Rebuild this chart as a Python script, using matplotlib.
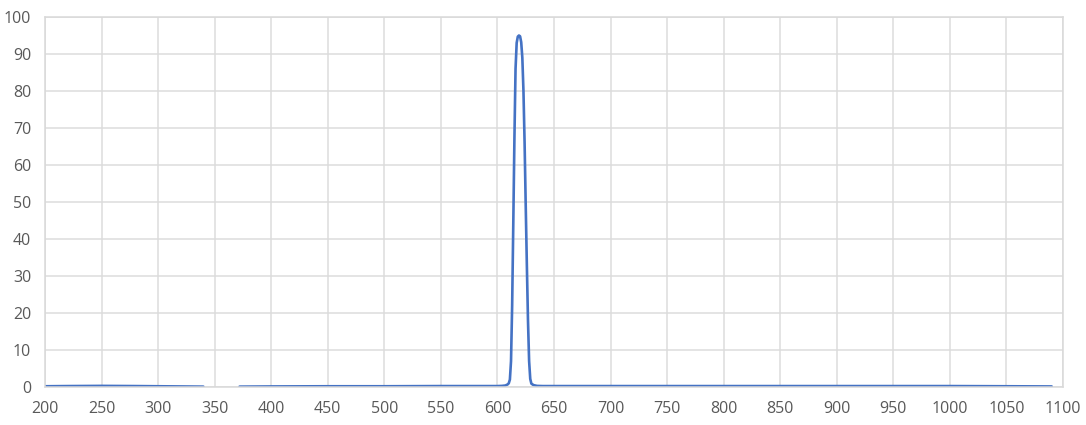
import numpy as np
import matplotlib.pyplot as plt

# wavelength (nm) and transmission (%)
wavelength = [200, 220, 250, 280, 300, 320, 340, 341, 371, 372, 400, 450, 500, 550, 580, 600,
              604, 607, 609, 610, 611, 612, 613, 614, 615, 616, 617, 618, 619, 620,
              621, 622, 623, 624, 625, 626, 627, 628, 629, 630, 632, 635, 640,
              650, 700, 800, 900, 1000, 1050, 1090]
transmission = [0.2, 0.25, 0.3, 0.25, 0.2, 0.15, 0.1, np.nan, np.nan, 0.1, 0.15, 0.2, 0.2, 0.25, 0.25, 0.25,
                0.3, 0.4, 0.7, 1.0, 2.0, 7.0, 22.0, 44.0, 67.0, 86.0, 93.0, 94.7, 95.0, 94.8,
                93.2, 89.0, 80.0, 66.0, 49.0, 33.0, 18.0, 7.0, 2.2, 0.9, 0.5, 0.3, 0.25,
                0.25, 0.25, 0.25, 0.25, 0.25, 0.2, 0.15]

x_ticks = list(range(200, 1101, 50))
y_ticks = list(range(0, 101, 10))

plt.rcParams['font.family'] = ['Open Sans', 'DejaVu Sans']

fig = plt.figure(figsize=(10.86, 4.25), dpi=100)
ax = fig.add_axes([45 / 1086, 38 / 425, 1018 / 1086, 370 / 425])

ax.plot(wavelength, transmission, color='#4472C4', linewidth=1.9, solid_capstyle='round')

ax.set_xlim(200, 1100)
ax.set_ylim(0, 100)
ax.set_xticks(x_ticks)
ax.set_yticks(y_ticks)
ax.grid(True, color='#dcdcdc', linewidth=1.1)
ax.set_axisbelow(True)
for s in ax.spines.values():
    s.set_color('#d9d9d9')
    s.set_linewidth(1.1)
ax.tick_params(length=0, labelsize=11.5, labelcolor='#595959')
ax.tick_params(axis='x', pad=10)
ax.tick_params(axis='y', pad=10)

fig.savefig('out.png', dpi=100)
